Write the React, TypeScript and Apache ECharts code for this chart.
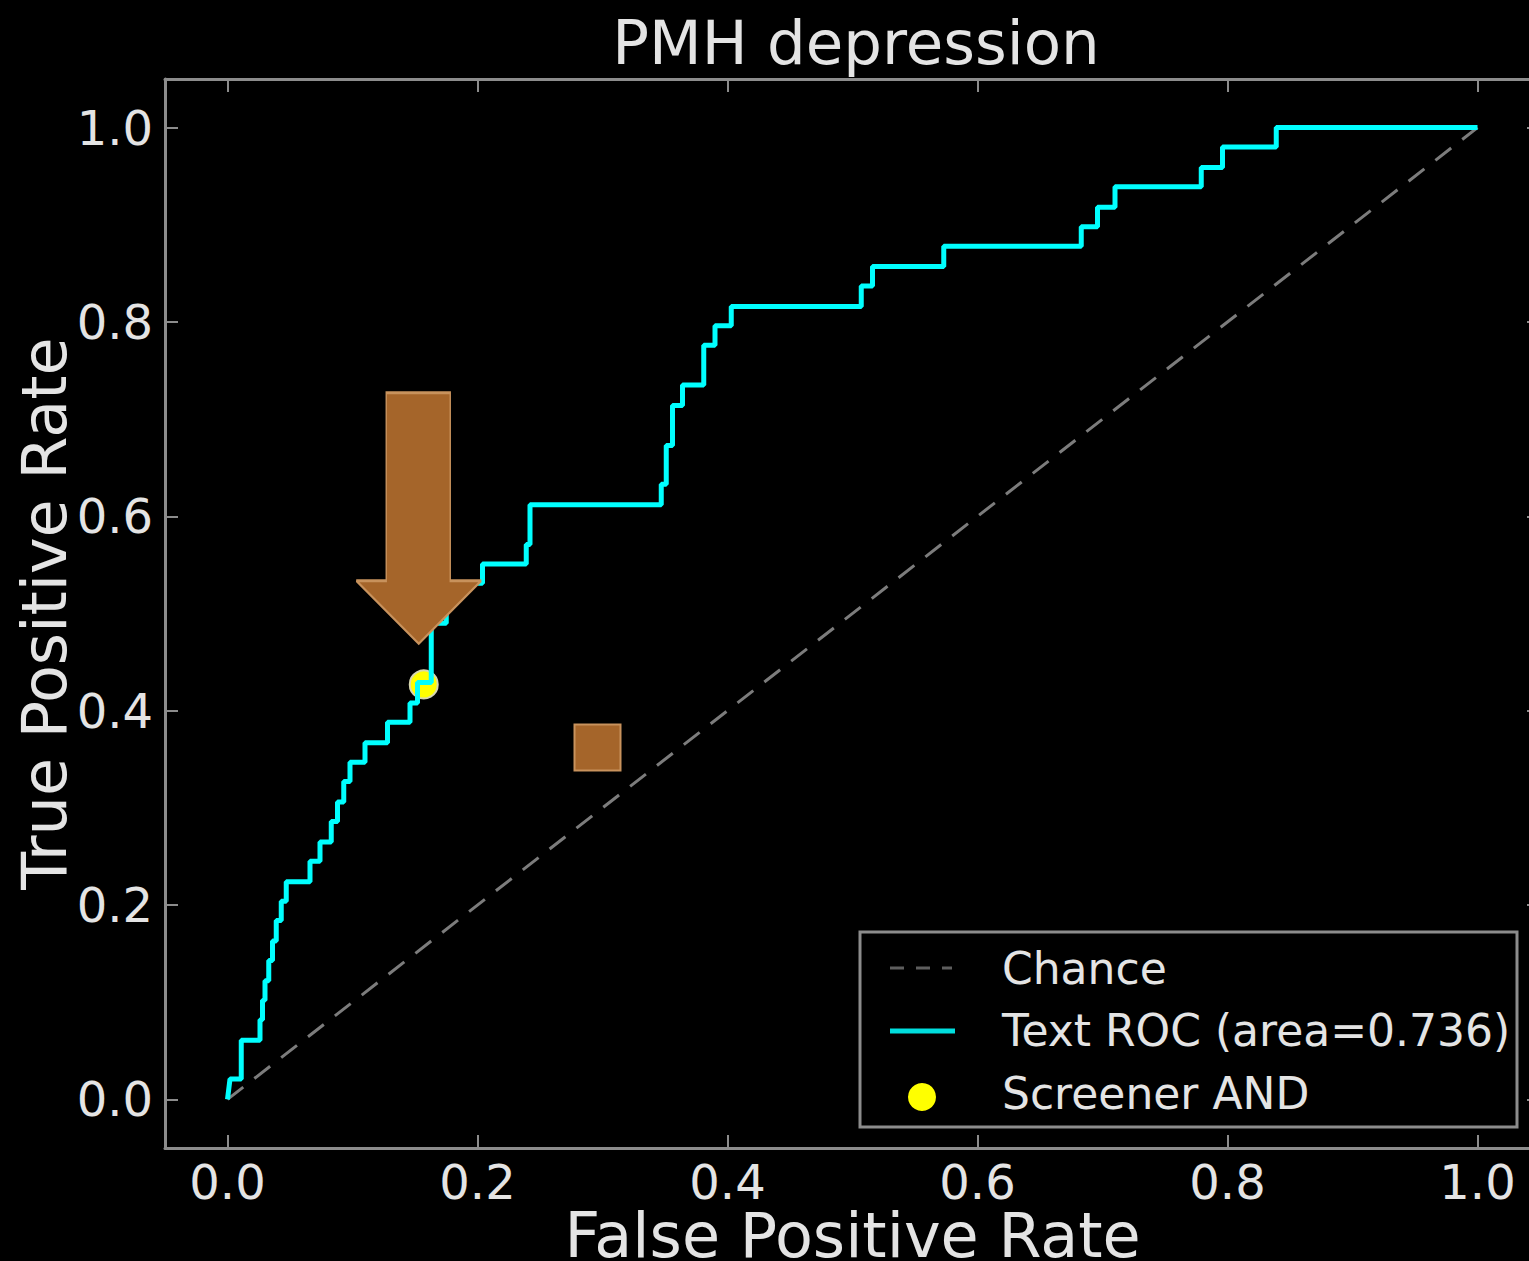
import React, { useEffect, useRef } from "react";
import * as echarts from "echarts";

const titleText = "PMH depression";
const xName = "False Positive Rate";
const yName = "True Positive Rate";
const tickValues = [0, 0.2, 0.4, 0.6, 0.8, 1.0];

// ROC curve vertices (false positive rate, true positive rate)
const rocFpr = [
  0.0, 0.002, 0.011, 0.011, 0.026, 0.026, 0.028, 0.028, 0.03, 0.03, 0.033, 0.033, 0.036, 0.036,
  0.039, 0.039, 0.043, 0.043, 0.047, 0.047, 0.066, 0.066, 0.074, 0.074, 0.083, 0.083, 0.088, 0.088,
  0.093, 0.093, 0.098, 0.098, 0.11, 0.11, 0.128, 0.128, 0.146, 0.146, 0.152, 0.152, 0.163, 0.163,
  0.175, 0.175, 0.183, 0.183, 0.204, 0.204, 0.239, 0.239, 0.242, 0.242, 0.347, 0.347, 0.351, 0.351,
  0.356, 0.356, 0.364, 0.364, 0.381, 0.381, 0.39, 0.39, 0.403, 0.403, 0.507, 0.507, 0.516, 0.516,
  0.573, 0.573, 0.683, 0.683, 0.696, 0.696, 0.71, 0.71, 0.779, 0.779, 0.796, 0.796, 0.839, 0.839, 1.0,
];
const rocTpr = [
  0.0, 0.021, 0.021, 0.061, 0.061, 0.082, 0.082, 0.102, 0.102, 0.122, 0.122, 0.143, 0.143, 0.163,
  0.163, 0.184, 0.184, 0.204, 0.204, 0.224, 0.224, 0.245, 0.245, 0.265, 0.265, 0.286, 0.286, 0.306,
  0.306, 0.327, 0.327, 0.347, 0.347, 0.367, 0.367, 0.388, 0.388, 0.408, 0.408, 0.429, 0.429, 0.49,
  0.49, 0.51, 0.51, 0.531, 0.531, 0.551, 0.551, 0.571, 0.571, 0.612, 0.612, 0.633, 0.633, 0.673,
  0.673, 0.714, 0.714, 0.735, 0.735, 0.776, 0.776, 0.796, 0.796, 0.816, 0.816, 0.837, 0.837, 0.857,
  0.857, 0.878, 0.878, 0.898, 0.898, 0.918, 0.918, 0.939, 0.939, 0.959, 0.959, 0.98, 0.98, 1.0, 1.0,
];
const chanceFpr = [0, 1];
const chanceTpr = [0, 1];
const screenerAnd = [0.157, 0.427];
const squareMarker = [0.296, 0.362];
const arrowMarker = [0.153, 0.598];

const legendLabels = ["Chance", "Text ROC (area=0.736)", "Screener AND"];

const FONT = "DejaVu Sans";
const TEXT = "#e4e4e4";
const SPINE = "#8c8c8c";
const BROWN = "#a5652a";
const TAN = "#c8925c";

export default function App() {
  const ref = useRef<HTMLDivElement>(null);
  useEffect(() => {
    if (!ref.current) return;
    const chart = echarts.init(ref.current, null, { renderer: "svg" });
    const rocData = rocFpr.map((x, i) => [x, rocTpr[i]]);
    const chanceData = chanceFpr.map((x, i) => [x, chanceTpr[i]]);
    const spine = { show: true, onZero: false, lineStyle: { color: SPINE, width: 3 } };
    const tick = {
      show: true,
      inside: true,
      length: 13,
      customValues: tickValues,
      lineStyle: { color: SPINE, width: 2 },
    };
    const label = {
      customValues: tickValues,
      formatter: (v: number) => v.toFixed(1),
      color: TEXT,
      fontSize: 48,
      fontFamily: FONT,
    };
    chart.setOption({
      animation: false,
      backgroundColor: "#000",
      title: {
        text: titleText,
        left: 851,
        textAlign: "center",
        top: 7,
        textStyle: { color: TEXT, fontSize: 61, fontWeight: "normal", fontFamily: FONT },
      },
      grid: {
        left: 165,
        top: 79,
        width: 1375,
        height: 1069,
        containLabel: false,
        outerBoundsMode: "none",
      },
      xAxis: [
        {
          type: "value",
          min: -0.05,
          max: 1.05,
          position: "bottom",
          axisLine: spine,
          axisTick: tick,
          axisLabel: { ...label, margin: 10 },
          splitLine: { show: false },
          name: xName,
          nameLocation: "middle",
          nameGap: 56,
          nameMoveOverlap: false,
          nameTextStyle: { color: TEXT, fontSize: 62, fontFamily: FONT, lineHeight: 62 },
        },
        {
          type: "value",
          min: -0.05,
          max: 1.05,
          position: "top",
          axisLine: spine,
          axisTick: tick,
          axisLabel: { show: false },
          splitLine: { show: false },
        },
      ],
      yAxis: [
        {
          type: "value",
          min: -0.05,
          max: 1.05,
          position: "left",
          axisLine: spine,
          axisTick: tick,
          axisLabel: { ...label, margin: 12 },
          splitLine: { show: false },
          name: yName,
          nameLocation: "middle",
          nameGap: 90,
          nameMoveOverlap: false,
          nameTextStyle: { color: TEXT, fontSize: 62, fontFamily: FONT, lineHeight: 62 },
        },
        {
          type: "value",
          min: -0.05,
          max: 1.05,
          position: "right",
          axisLine: spine,
          axisTick: tick,
          axisLabel: { show: false },
          splitLine: { show: false },
        },
      ],
      series: [
        {
          name: legendLabels[0],
          type: "line",
          data: chanceData,
          symbol: "none",
          z: 2,
          lineStyle: { color: "#7c7c7c", width: 3, type: [20, 14] },
        },
        {
          name: legendLabels[2],
          type: "scatter",
          data: [screenerAnd],
          symbol: "circle",
          symbolSize: 28,
          z: 3,
          itemStyle: { color: "#ffff00", borderColor: "#d8d8b0", borderWidth: 2, opacity: 1 },
        },
        {
          name: legendLabels[1],
          type: "line",
          data: rocData,
          symbol: "none",
          z: 4,
          lineStyle: { color: "#00ffff", width: 5 },
        },
        {
          name: "marker square",
          type: "scatter",
          data: [squareMarker],
          symbol: "rect",
          symbolSize: 46,
          z: 5,
          itemStyle: { color: BROWN, borderColor: TAN, borderWidth: 2, opacity: 1 },
        },
        {
          name: "marker arrow",
          type: "scatter",
          data: [arrowMarker],
          symbol: "path://M30,0L94,0L94,188L125,188L62.5,251L0,188L30,188Z",
          symbolSize: [125, 251],
          symbolKeepAspect: false,
          z: 6,
          itemStyle: { color: BROWN, borderColor: TAN, borderWidth: 2, opacity: 1 },
        },
      ],
      graphic: [
        {
          type: "group",
          z: 100,
          children: [
            {
              type: "rect",
              shape: { x: 860, y: 932, width: 657, height: 195 },
              style: { fill: "#000", stroke: SPINE, lineWidth: 3 },
            },
            {
              type: "line",
              shape: { x1: 890, y1: 968, x2: 952, y2: 968 },
              style: { stroke: "#5e5e5e", lineWidth: 3, lineDash: [14, 12] },
            },
            {
              type: "text",
              x: 1002,
              y: 968,
              style: { text: legendLabels[0], fill: TEXT, fontSize: 44, fontFamily: FONT, verticalAlign: "middle" },
            },
            {
              type: "line",
              shape: { x1: 890, y1: 1031, x2: 955, y2: 1031 },
              style: { stroke: "#00dede", lineWidth: 5 },
            },
            {
              type: "text",
              x: 1002,
              y: 1030,
              style: { text: legendLabels[1], fill: TEXT, fontSize: 44, fontFamily: FONT, verticalAlign: "middle" },
            },
            {
              type: "circle",
              shape: { cx: 922, cy: 1097, r: 14 },
              style: { fill: "#ffff00" },
            },
            {
              type: "text",
              x: 1002,
              y: 1093,
              style: { text: legendLabels[2], fill: TEXT, fontSize: 44, fontFamily: FONT, verticalAlign: "middle" },
            },
          ],
        },
      ],
    });
    return () => chart.dispose();
  }, []);
  return (
    <div
      ref={ref}
      style={{ position: "absolute", left: 0, top: 0, width: 1529, height: 1261, background: "#000" }}
    />
  );
}
